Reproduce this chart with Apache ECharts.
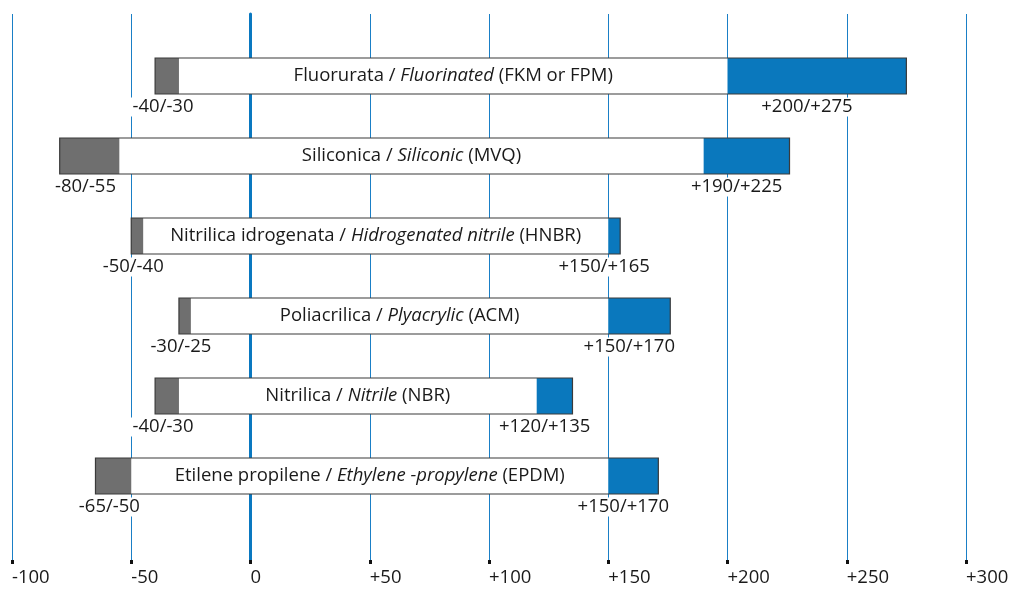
<!DOCTYPE html>
<html><head><meta charset="utf-8">
<script src="https://cdn.jsdelivr.net/npm/echarts@6/dist/echarts.min.js"></script>
<style>html,body{margin:0;padding:0;background:#fff}#c{width:1013px;height:590px}</style>
</head><body><div id="c"></div>
<script>
// ---- data ----
const namesIt = ['Fluorurata', 'Siliconica', 'Nitrilica idrogenata', 'Poliacrilica', 'Nitrilica', 'Etilene propilene'];
const namesEn = ['Fluorinated', 'Siliconic', 'Hidrogenated nitrile', 'Plyacrylic', 'Nitrile', 'Ethylene -propylene'];
const codes = ['(FKM or FPM)', '(MVQ)', '(HNBR)', '(ACM)', '(NBR)', '(EPDM)'];
const lowFrom = [-40, -80, -50, -30, -40, -65];
const lowTo = [-30, -55, -45, -25, -30, -50];
const highFrom = [200, 190, 150, 150, 120, 150];
const highTo = [275, 226, 155, 176, 135, 171];
const lowLabels = ['-40/-30', '-80/-55', '-50/-40', '-30/-25', '-40/-30', '-65/-50'];
const highLabels = ['+200/+275', '+190/+225', '+150/+165', '+150/+170', '+120/+135', '+150/+170'];
const axisMin = -100, axisMax = 300, axisStep = 50;

const FONT = '"Open Sans", sans-serif';
const FS = 18.5;
const rows = namesIt.map((_, i) => [i, lowFrom[i], lowTo[i], highFrom[i], highTo[i]]);

function renderItem(params, api) {
  const i = params.dataIndex;
  const y = api.value(0);
  const p1 = api.coord([api.value(1), y]);
  const p2 = api.coord([api.value(2), y]);
  const p3 = api.coord([api.value(3), y]);
  const p4 = api.coord([api.value(4), y]);
  const h = 36;
  const top = p1[1] - h / 2;
  const cy = p1[1];
  const lblStyle = (txt, x) => ({
    type: 'text', x: x, y: cy + 31,
    style: {text: txt, fill: '#1a1a1a', font: FS + 'px ' + FONT, align: 'center', verticalAlign: 'middle',
      textAlign: 'center', textVerticalAlign: 'middle', backgroundColor: '#fff', padding: [0, 3]},
    z2: 5
  });
  return {type: 'group', children: [
    {type: 'rect', shape: {x: p1[0], y: top, width: p4[0] - p1[0], height: h}, style: {fill: '#fff'}},
    {type: 'rect', shape: {x: p1[0], y: top, width: p2[0] - p1[0], height: h}, style: {fill: '#6f6f6f'}},
    {type: 'rect', shape: {x: p3[0], y: top, width: p4[0] - p3[0], height: h}, style: {fill: '#0a78bd'}},
    {type: 'rect', shape: {x: p1[0], y: top, width: p4[0] - p1[0], height: h}, style: {fill: null, stroke: '#3a3a3a', lineWidth: 1.2}},
    {type: 'text', x: (p2[0] + p3[0]) / 2, y: cy,
      style: {text: '{n|' + namesIt[i] + ' / }{i|' + namesEn[i] + '}{n| ' + codes[i] + '}',
        align: 'center', verticalAlign: 'middle', textAlign: 'center', textVerticalAlign: 'middle',
        rich: {n: {font: FS + 'px ' + FONT, fill: '#1a1a1a'}, i: {font: 'italic ' + FS + 'px ' + FONT, fill: '#1a1a1a'}}}},
    lblStyle(lowLabels[i], (p1[0] + p2[0]) / 2 - 4),
    lblStyle(highLabels[i], (p3[0] + p4[0]) / 2 - 10)
  ]};
}

const chart = echarts.init(document.getElementById('c'), null, {renderer: 'canvas'});
chart.setOption({
  animation: false,
  backgroundColor: '#fff',
  grid: [
    {left: 12, right: 47, top: 14, bottom: 30},
    {left: 12, right: 47, top: 36, bottom: 74}
  ],
  xAxis: [
    {gridIndex: 0, type: 'value', min: axisMin, max: axisMax, interval: axisStep,
      axisLine: {show: false},
      axisTick: {show: true, length: 4, lineStyle: {color: '#111', width: 3}},
      splitLine: {show: true, lineStyle: {color: '#1a7fc6', width: 1}},
      axisLabel: {show: true, align: 'left', margin: 8, color: '#1a1a1a', fontFamily: FONT, fontSize: FS,
        formatter: v => (v > 0 ? '+' + v : '' + v)}},
    {gridIndex: 1, type: 'value', min: axisMin, max: axisMax, interval: axisStep, show: false}
  ],
  yAxis: [
    {gridIndex: 0, type: 'value', min: 0, max: 1,
      axisLine: {show: true, onZero: true, lineStyle: {color: '#0a78c0', width: 3}},
      axisTick: {show: false}, axisLabel: {show: false}, splitLine: {show: false}},
    {gridIndex: 1, type: 'category', data: namesIt, inverse: true, show: false}
  ],
  series: [{
    type: 'custom', xAxisIndex: 1, yAxisIndex: 1,
    renderItem: renderItem,
    encode: {x: [1, 2, 3, 4], y: 0},
    data: rows
  }]
});
</script></body></html>
